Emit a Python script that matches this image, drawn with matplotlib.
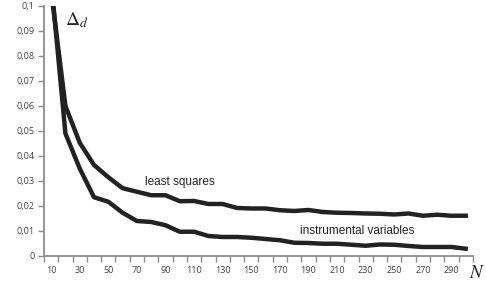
import matplotlib
matplotlib.use("Agg")
import matplotlib.pyplot as plt
import numpy as np

# sample sizes
n_values = list(range(10, 301, 10))

# error of least squares estimate
least_squares = [0.106, 0.060, 0.0453, 0.0364, 0.0315, 0.0271, 0.0257, 0.0243, 0.0243, 0.0219,
                 0.0220, 0.0208, 0.0208, 0.0192, 0.0190, 0.0190, 0.0183, 0.0180, 0.0184, 0.0176,
                 0.0173, 0.0172, 0.0170, 0.0169, 0.0166, 0.0170, 0.0161, 0.0165, 0.0161, 0.0161]

# error of instrumental variables estimate
instrumental = [0.110, 0.049, 0.035, 0.0235, 0.0217, 0.0173, 0.0140, 0.0136, 0.0123, 0.0097,
                0.0097, 0.0080, 0.0076, 0.0076, 0.0073, 0.0068, 0.0063, 0.0053, 0.0052, 0.0049,
                0.0049, 0.0045, 0.0041, 0.0046, 0.0045, 0.0040, 0.0036, 0.0036, 0.0036, 0.0029]

y_ticks = [0, 0.01, 0.02, 0.03, 0.04, 0.05, 0.06, 0.07, 0.08, 0.09, 0.1]
y_labels = ["0", "0,01", "0,02", "0,03", "0,04", "0,05", "0,06", "0,07", "0,08", "0,09", "0,1"]
x_labels = list(range(10, 300, 20))

plt.rcParams['mathtext.fontset'] = 'stix'

fig = plt.figure(figsize=(4.86, 2.85), dpi=100)
ax = fig.add_axes([0.0905, 0.1018, 0.8825, 0.8772])

line_color = '#222222'
ax.plot(n_values, least_squares, color=line_color, lw=3.2, solid_joinstyle='round')
ax.plot(n_values, instrumental, color=line_color, lw=3.2, solid_joinstyle='round')

ax.set_xlim(5, 305)
ax.set_ylim(0, 0.1)

axis_color = '#8c8c8c'
text_color = '#404040'
for side in ['top', 'right']:
    ax.spines[side].set_visible(False)
for side in ['left', 'bottom']:
    ax.spines[side].set_color(axis_color)
    ax.spines[side].set_linewidth(1.3)

ax.set_yticks(y_ticks)
ax.set_yticklabels(y_labels)
ax.tick_params(axis='y', direction='out', length=4, width=1, color=axis_color,
               labelsize=6.5, labelcolor=text_color, pad=3)

ax.set_xticks(x_labels)
ax.set_xticklabels([str(v) for v in x_labels])
ax.set_xticks(np.arange(5, 306, 10), minor=True)
ax.tick_params(axis='x', which='major', length=0, labelsize=6.5, labelcolor=text_color, pad=7)
ax.tick_params(axis='x', which='minor', direction='out', length=4, width=1, color=axis_color)

for lab in ax.get_xticklabels() + ax.get_yticklabels():
    lab.set_fontfamily('Open Sans')

ax.text(100, 0.0296, "least squares", fontsize=8.5, family='Liberation Sans',
        ha='center', va='center', color='#222222')
ax.text(224, 0.0100, "instrumental variables", fontsize=8.5, family='Liberation Sans',
        ha='center', va='center', color='#222222')

fig.text(65 / 486, 1 - 20 / 285, r"$\Delta_d$", fontsize=14, ha='left', va='center', color='#222222')
fig.text(469 / 486, 1 - 272 / 285, r"$N$", fontsize=13.5, ha='left', va='center', color='#222222')

fig.savefig("out.png", dpi=100)
